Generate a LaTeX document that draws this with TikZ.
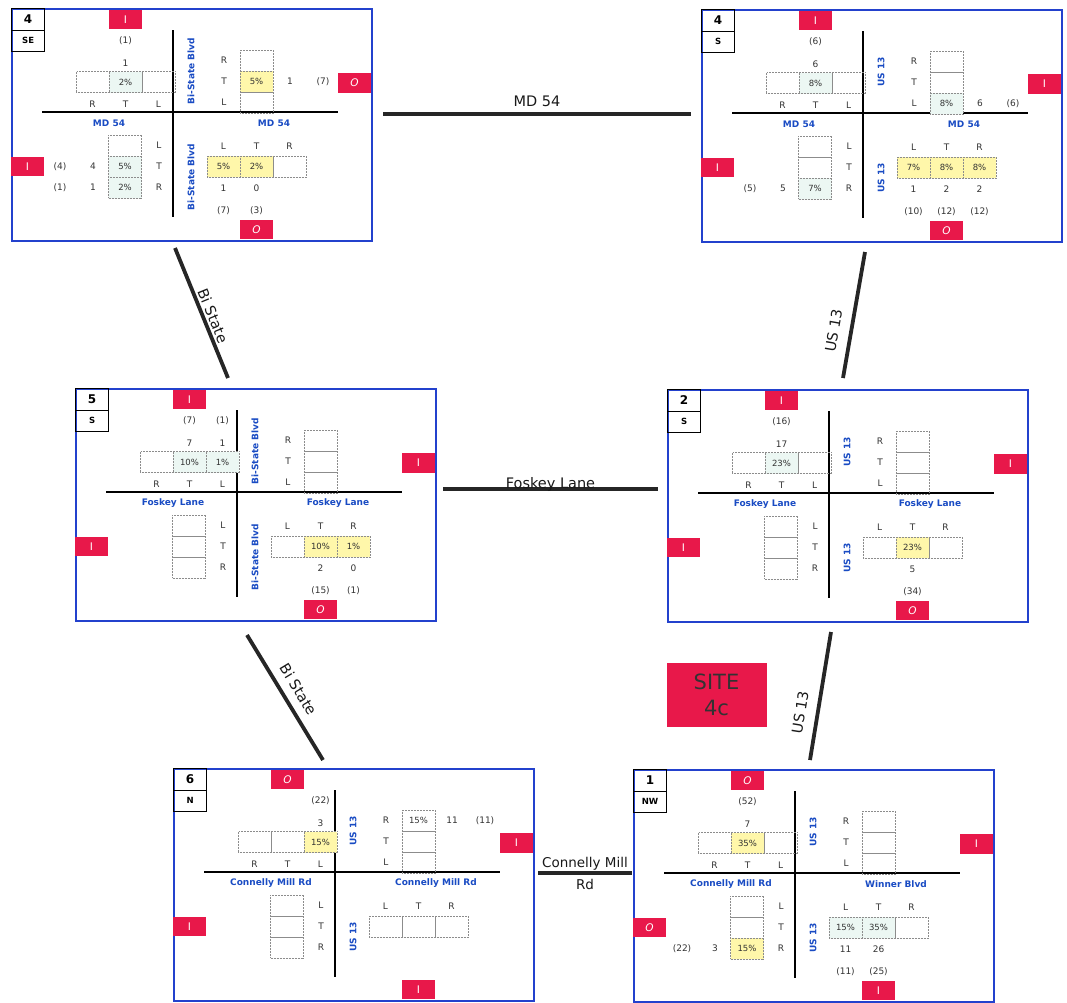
\documentclass[tikz,border=0pt]{standalone}
\usepackage{fontspec}
\setmainfont{DejaVu Sans}

\definecolor{frameblue}{RGB}{35,65,205}
\definecolor{roadblue}{RGB}{25,75,195}
\definecolor{badgered}{RGB}{232,24,74}
\definecolor{cellyel}{RGB}{255,247,170}
\definecolor{celllt}{RGB}{236,247,243}

\begin{document}
\begin{tikzpicture}[x=1pt,y=-1pt]

\tikzset{
  frame/.style   = {draw=frameblue, line width=1.6pt, minimum width=360pt,
                    minimum height=232pt, inner sep=0pt, anchor=north west},
  idbox/.style   = {draw, line width=1.2pt, minimum width=33pt, minimum height=21.5pt,
                    inner sep=0pt, anchor=north west, font=\bfseries\fontsize{8.5}{9}\selectfont},
  street/.style  = {line width=1.5pt},
  cell/.style    = {draw=black!45, densely dotted, line width=0.5pt, minimum width=33pt,
                    minimum height=21pt, inner sep=0pt, font=\fontsize{8.5}{9}\selectfont,
                    text=black!80},
  lt/.style      = {cell, fill=celllt},
  yel/.style     = {cell, fill=cellyel},
  mv/.style      = {font=\fontsize{9}{10}\selectfont, text=black!80, inner sep=0pt},
  road/.style    = {font=\bfseries\fontsize{9}{10}\selectfont, text=roadblue, inner sep=0pt},
  badge/.style   = {fill=badgered, minimum width=33pt, minimum height=19.5pt, inner sep=0pt,
                    text=white, font=\fontsize{10.5}{11}\selectfont},
  link/.style    = {line width=3.8pt, draw=black!85},
  linklbl/.style = {font=\fontsize{14.5}{16}\selectfont, text=black!90},
  site/.style    = {fill=badgered, minimum width=100pt, minimum height=64pt, align=center,
                    font=\fontsize{21}{26}\selectfont, text=black!80},
}

\useasboundingbox (0,0) rectangle (1067,1002);

% intersection frames, streets, lanes
\foreach \bx/\ox/\oy/\nr/\dir/\rdw/\rde/\rdv/\bN/\bE/\bW/\bS in {
  A/11/8/4/SE/MD 54/MD 54/Bi-State Blvd/I/\textit{O}/I/\textit{O},
  B/701/9/4/S/MD 54/MD 54/US 13/I/I/I/\textit{O},
  C/75/388/5/S/Foskey Lane/Foskey Lane/Bi-State Blvd/I/I/I/\textit{O},
  D/667/389/2/S/Foskey Lane/Foskey Lane/US 13/I/I/I/\textit{O},
  E/173/768/6/N/Connelly Mill Rd/Connelly Mill Rd/US 13/\textit{O}/I/I/I,
  F/633/769/1/NW/Connelly Mill Rd/Winner Blvd/US 13/\textit{O}/I/\textit{O}/I}
{
\begin{scope}[shift={(\ox,\oy)}]
  \node[frame] (\bx) at (0,0) {};
  \node[idbox, font=\bfseries\fontsize{12}{13}\selectfont] (\bx-nr) at (0,0) {\nr};
  \node[idbox] (\bx-dir) at (0,21.5) {\dir};
  \draw[street] (162,22) -- (162,209);
  \draw[street] (31,104) -- (327,104);
  % lanes
  \foreach \i/\mvt/\cx in {1/R/81.5,2/T/114.5,3/L/147.5} {
    \node[cell] (\bx-n\i) at (\cx,74) {};
    \node[mv] (\bx-nl\i) at (\cx,96) {\mvt};
  }
  \foreach \i/\mvt/\cy in {1/R/52.5,2/T/73.5,3/L/94.5} {
    \node[cell] (\bx-e\i) at (245.5,\cy) {};
    \node[mv] (\bx-el\i) at (213,\cy) {\mvt};
  }
  \foreach \i/\mvt/\cy in {1/L/137.5,2/T/158.5,3/R/179.5} {
    \node[cell] (\bx-w\i) at (114,\cy) {};
    \node[mv] (\bx-wl\i) at (148,\cy) {\mvt};
  }
  \foreach \i/\mvt/\cx in {1/L/212.5,2/T/245.5,3/R/278.5} {
    \node[cell] (\bx-s\i) at (\cx,158.5) {};
    \node[mv] (\bx-sl\i) at (\cx,138) {\mvt};
  }
  % street names
  \node[road] (\bx-rw) at (98,115) {\rdw};
  \node[road] (\bx-re) at (263,115) {\rde};
  \node[road, rotate=90] (\bx-rn) at (180,63) {\rdv};
  \node[road, rotate=90] (\bx-rs) at (180,169) {\rdv};
  % in / out
  \node[badge] (\bx-bn) at (114.5,11.5) {\bN};
  \node[badge] (\bx-be) at (343.5,75) {\bE};
  \node[badge] (\bx-bw) at (16.5,158.5) {\bW};
  \node[badge] (\bx-bs) at (245.5,221.5) {\bS};
\end{scope}
}

% 4 SE
\begin{scope}[shift={(11,8)}]
\foreach \s/\x/\y/\v [count=\k] in {lt/114.5/74/2\%, yel/245.5/73.5/5\%, lt/114/158.5/5\%,
    lt/114/179.5/2\%, yel/212.5/158.5/5\%, yel/245.5/158.5/2\%}
  \node[\s] (A-v\k) at (\x,\y) {\v};
\foreach \x/\y/\v [count=\k] in {114.5/55/1, 114.5/33/(1), 279/73.5/1, 312/73.5/(7),
    82/158.5/4, 49/158.5/(4), 82/179.5/1, 49/179.5/(1),
    212.5/180/1, 245.5/180/0, 212.5/203/(7), 245.5/203/(3)}
  \node[mv] (A-c\k) at (\x,\y) {\v};
\end{scope}

% 4 S
\begin{scope}[shift={(701,9)}]
\foreach \s/\x/\y/\v [count=\k] in {lt/114.5/74/8\%, lt/245.5/94.5/8\%, lt/114/179.5/7\%,
    yel/212.5/158.5/7\%, yel/245.5/158.5/8\%, yel/278.5/158.5/8\%}
  \node[\s] (B-v\k) at (\x,\y) {\v};
\foreach \x/\y/\v [count=\k] in {114.5/55/6, 114.5/33/(6), 279/94.5/6, 312/94.5/(6),
    82/179.5/5, 49/179.5/(5),
    212.5/180/1, 245.5/180/2, 278.5/180/2, 212.5/203/(10), 245.5/203/(12), 278.5/203/(12)}
  \node[mv] (B-c\k) at (\x,\y) {\v};
\end{scope}

% 5 S
\begin{scope}[shift={(75,388)}]
\foreach \s/\x/\y/\v [count=\k] in {lt/114.5/74/10\%, lt/147.5/74/1\%,
    yel/245.5/158.5/10\%, yel/278.5/158.5/1\%}
  \node[\s] (C-v\k) at (\x,\y) {\v};
\foreach \x/\y/\v [count=\k] in {114.5/55/7, 114.5/33/(7), 147.5/55/1, 147.5/33/(1),
    245.5/180/2, 278.5/180/0, 245.5/203/(15), 278.5/203/(1)}
  \node[mv] (C-c\k) at (\x,\y) {\v};
\end{scope}

% 2 S
\begin{scope}[shift={(667,389)}]
\foreach \s/\x/\y/\v [count=\k] in {lt/114.5/74/23\%, yel/245.5/158.5/23\%}
  \node[\s] (D-v\k) at (\x,\y) {\v};
\foreach \x/\y/\v [count=\k] in {114.5/55/17, 114.5/33/(16), 245.5/180/5, 245.5/203/(34)}
  \node[mv] (D-c\k) at (\x,\y) {\v};
\end{scope}

% 6 N
\begin{scope}[shift={(173,768)}]
\foreach \s/\x/\y/\v [count=\k] in {yel/147.5/74/15\%, cell/245.5/52.5/15\%}
  \node[\s] (E-v\k) at (\x,\y) {\v};
\foreach \x/\y/\v [count=\k] in {147.5/55/3, 147.5/33/(22), 279/52.5/11, 312/52.5/(11)}
  \node[mv] (E-c\k) at (\x,\y) {\v};
\end{scope}

% 1 NW
\begin{scope}[shift={(633,769)}]
\foreach \s/\x/\y/\v [count=\k] in {yel/114.5/74/35\%, yel/114/179.5/15\%,
    lt/212.5/158.5/15\%, lt/245.5/158.5/35\%}
  \node[\s] (F-v\k) at (\x,\y) {\v};
\foreach \x/\y/\v [count=\k] in {114.5/55/7, 114.5/33/(52), 82/179.5/3, 49/179.5/(22),
    212.5/180/11, 245.5/180/26, 212.5/203/(11), 245.5/203/(25)}
  \node[mv] (F-c\k) at (\x,\y) {\v};
\end{scope}

% links between intersections
\coordinate (md-w) at (383,114);
\coordinate (md-e) at (691,114);
\coordinate (bs1-n) at (175,248);
\coordinate (bs1-s) at (228,378);
\coordinate (us1-n) at (865,252);
\coordinate (us1-s) at (843,378);
\coordinate (fl-w) at (443,489);
\coordinate (fl-e) at (658,489);
\coordinate (bs2-n) at (247,635);
\coordinate (bs2-s) at (323,760);
\coordinate (us2-n) at (831,632);
\coordinate (us2-s) at (810,760);
\coordinate (cm-w) at (538,873);
\coordinate (cm-e) at (632,873);

\draw[link] (md-w) -- node[linklbl, above, inner sep=5pt] (md-lbl) {MD 54} (md-e);
\draw[link] (bs1-n) -- node[linklbl, sloped, above, inner sep=2pt, pos=0.55] (bs1-lbl) {Bi State} (bs1-s);
\draw[link] (us1-n) -- node[linklbl, sloped, above, inner sep=10pt, pos=0.65] (us1-lbl) {US 13} (us1-s);
\draw[link] (fl-w) -- node[linklbl, anchor=base, inner sep=0pt, yshift=1pt] (fl-lbl) {Foskey Lane} (fl-e);
\draw[link] (bs2-n) -- node[linklbl, sloped, above, inner sep=8pt] (bs2-lbl) {Bi State} (bs2-s);
\draw[link] (us2-n) -- node[linklbl, sloped, above, inner sep=10pt, pos=0.65] (us2-lbl) {US 13} (us2-s);
\draw[link] (cm-w) -- node[linklbl, align=center, font=\fontsize{13.5}{22}\selectfont] (cm-lbl) {Connelly Mill\\Rd} (cm-e);

\node[site] (site) at (716.5,695) {SITE\\4c};
\end{tikzpicture}
\end{document}
